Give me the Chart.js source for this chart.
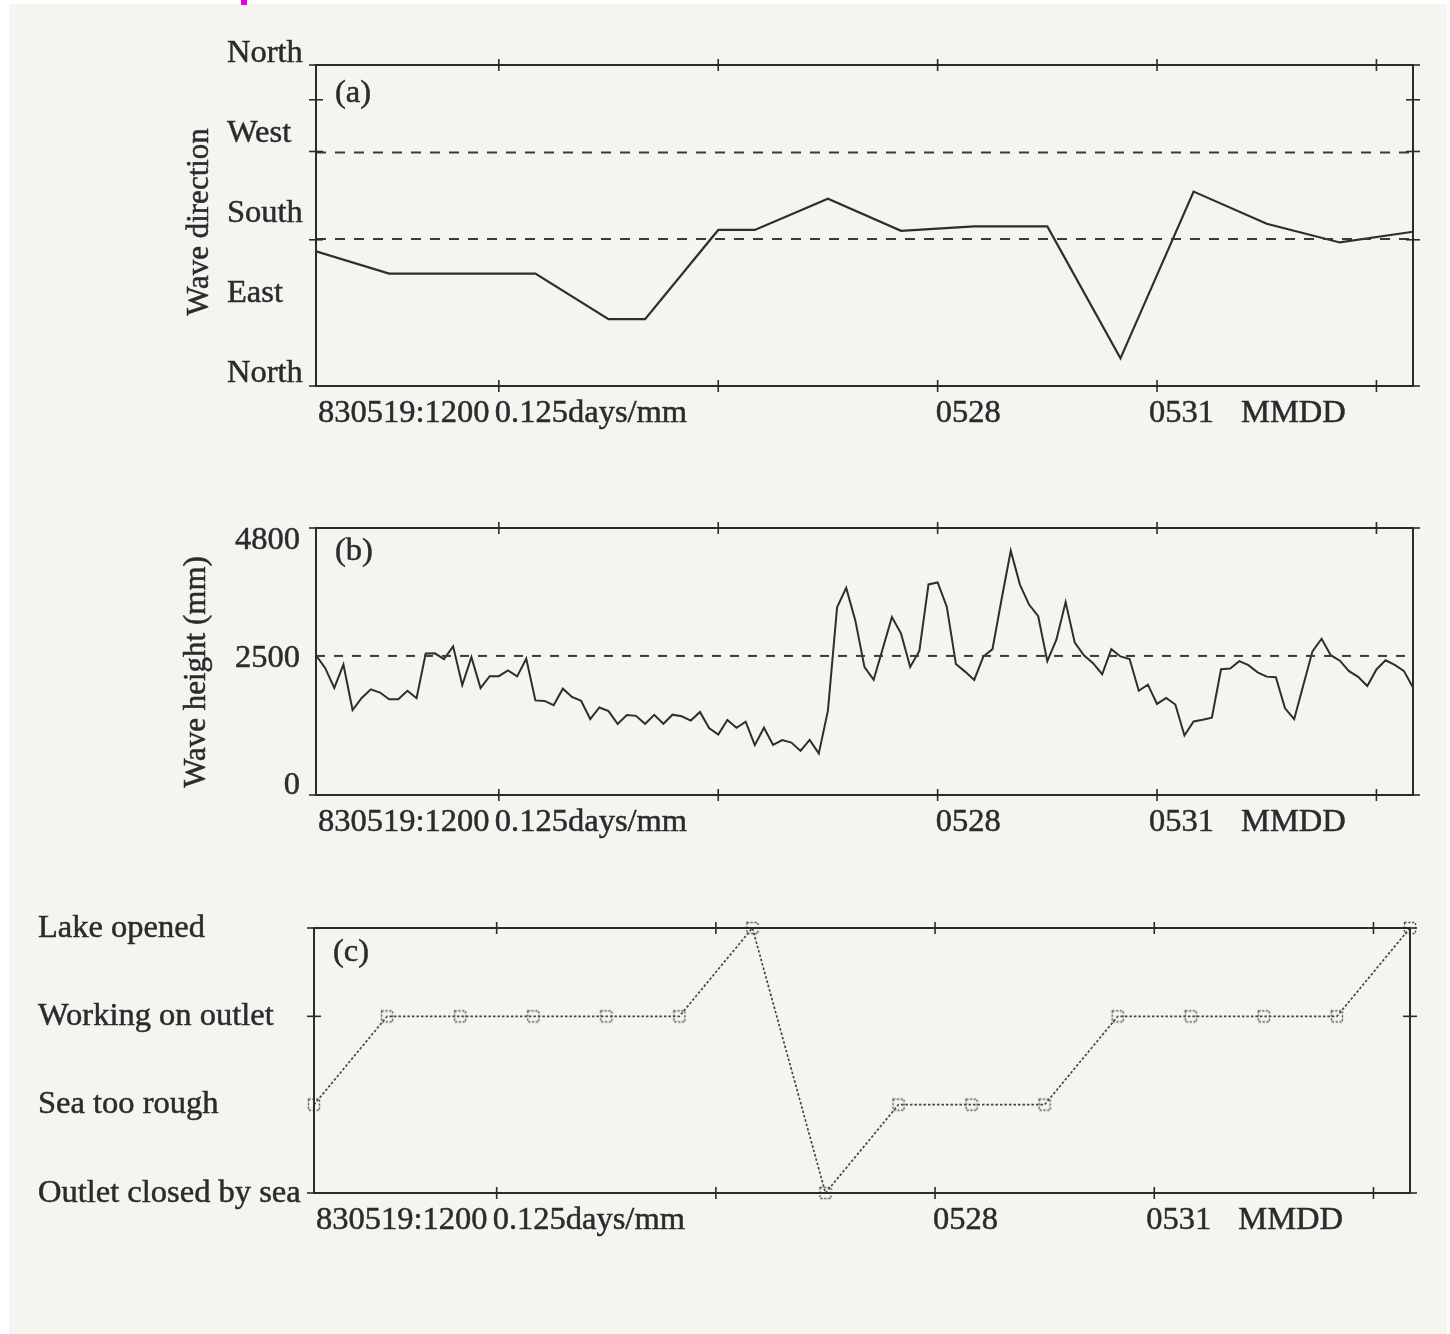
<!DOCTYPE html>
<html>
<head>
<meta charset="utf-8">
<script src="https://cdn.jsdelivr.net/npm/chart.js@4.4.1/dist/chart.umd.min.js"></script>
<style>
  body { margin: 0; background: #ffffff; }
  #page { position: absolute; left: 9px; top: 4px; width: 1438px; height: 1330px; background: #f5f4f1; }
  #mark { position: absolute; left: 241px; top: 0; width: 6px; height: 5px; background: #e000e0; }
  canvas { position: absolute; left: 0; }
</style>
</head>
<body>
<div id="page"></div>
<div id="mark"></div>
<canvas id="dirChart" width="1450" height="460" style="top:0"></canvas>
<canvas id="heightChart" width="1450" height="420" style="top:460px"></canvas>
<canvas id="statusChart" width="1450" height="454" style="top:880px"></canvas>
<script>
// time axis: days since 830519:1200, 0.125 days per step
const timeTickValues = [2.5, 5.5, 8.5, 11.5, 14.5];
const timeLabels = ['830519:1200', '0.125days/mm', '0528', '0531', 'MMDD'];
const timeLabelValues = [0, 2.5, 8.5, 11.5, 11.5];

// (a) wave direction, degrees (0 = North, 90 = East, 180 = South, 270 = West)
const dirTimes = [0, 1, 3, 4, 4.5, 5.5, 6, 7, 8, 9, 10, 11, 12, 13, 14, 15];
const dirValues = [151, 126, 126, 75, 75, 175, 175, 210, 174, 179, 179, 31, 218, 182, 161, 173];
const dirRefLines = [165, 262];
const dirLabelValues = [0, 90, 180, 270, 360];
const dirLabels = ['North', 'East', 'South', 'West', 'North'];
const dirTickValues = [0, 164, 263, 321, 360];

// (b) wave height, mm, every 3 hours
const heightValues = [
  2513, 2284, 1926, 2345, 1527, 1745, 1899, 1842, 1721, 1723,
  1874, 1741, 2545, 2547, 2444, 2673, 1978, 2477, 1921, 2137,
  2137, 2239, 2133, 2450, 1701, 1691, 1613, 1912, 1763, 1692,
  1365, 1574, 1509, 1277, 1439, 1423, 1279, 1441, 1281, 1444,
  1415, 1338, 1493, 1205, 1086, 1347, 1209, 1317, 897, 1209,
  901, 986, 942, 793, 991, 748, 1516, 3374, 3723, 3135,
  2299, 2072, 2635, 3200, 2901, 2302, 2590, 3786, 3822, 3385,
  2354, 2218, 2068, 2489, 2622, 3523, 4392, 3782, 3423, 3214,
  2405, 2797, 3468, 2739, 2511, 2369, 2171, 2622, 2491, 2444,
  1874, 1984, 1637, 1746, 1626, 1070, 1322, 1354, 1390, 2261,
  2273, 2406, 2335, 2205, 2128, 2117, 1559, 1363, 1975, 2583,
  2809, 2513, 2415, 2227, 2124, 1959, 2257, 2421, 2338, 2232,
  1932
];
const heightStep = 0.125;
const heightRefLine = 2500;
const heightLabelValues = [0, 2500, 4800];
const heightLabels = ['0', '2500', '4800'];
const heightTickValues = [0, 4800];

// (c) outlet status, once a day
const statusTimes = [0, 1, 2, 3, 4, 5, 6, 7, 8, 9, 10, 11, 12, 13, 14, 15];
const statusValues = [1, 2, 2, 2, 2, 2, 3, 0, 1, 1, 1, 2, 2, 2, 2, 3];
const statusLabels = ['Outlet closed by sea', 'Sea too rough', 'Working on outlet', 'Lake opened'];
const statusTickValues = [0, 2, 3];

const INK = '#2b2b2b';
const FONT = '"Liberation Serif", "Times New Roman", serif';

function inkText(ctx, t, x, y) {
  ctx.fillText(t, x, y);
  ctx.strokeText(t, x, y);
}

const framePlugin = {
  id: 'frame',
  afterDatasetsDraw(chart, args, o) {
    const { ctx, chartArea: a, scales: { x, y } } = chart;
    const seg = (x1, y1, x2, y2) => { ctx.beginPath(); ctx.moveTo(x1, y1); ctx.lineTo(x2, y2); ctx.stroke(); };
    ctx.save();
    ctx.strokeStyle = INK;
    ctx.lineWidth = 2;
    ctx.strokeRect(a.left, a.top, a.right - a.left, a.bottom - a.top);
    ctx.lineWidth = 1.6;
    timeTickValues.forEach(v => {
      const px = x.getPixelForValue(v);
      seg(px, a.top - 6, px, a.top + 6);
      seg(px, a.bottom - 6, px, a.bottom + 6);
    });
    o.yTicks.forEach(v => {
      const py = y.getPixelForValue(v);
      seg(a.left - 7, py, a.left + 7, py);
      seg(a.right - 7, py, a.right + 7, py);
    });

    ctx.fillStyle = INK;
    ctx.lineWidth = 0.5;
    ctx.font = '32.5px ' + FONT;
    ctx.textBaseline = 'middle';
    // time labels under the frame
    ctx.textAlign = 'left';
    const dx = [2, -4, -2, -8, 84];
    timeLabels.forEach((t, i) => {
      inkText(ctx, t, x.getPixelForValue(timeLabelValues[i]) + dx[i], a.bottom + 27);
    });
    // value labels on the left
    ctx.textAlign = o.yAlign;
    o.yLabels.forEach((t, i) => {
      inkText(ctx, t, o.yX, y.getPixelForValue(o.yValues[i]) + o.yDy[i]);
    });
    // panel letter
    ctx.textAlign = 'left';
    inkText(ctx, o.panel, a.left + 19, a.top + o.panelDy);
    // axis title
    if (o.title) {
      ctx.font = '31px ' + FONT;
      ctx.translate(o.titleX, o.titleY);
      ctx.rotate(-Math.PI / 2);
      ctx.textAlign = 'center';
      inkText(ctx, o.title, 0, 0);
    }
    ctx.restore();
  }
};

function refLine(v, dash) {
  return {
    data: [{ x: 0, y: v }, { x: 15, y: v }],
    borderColor: '#3a3a3a', borderWidth: 2, borderDash: dash,
    pointRadius: 0
  };
}

function makePanel(id, datasets, yMax, padding, frame) {
  return new Chart(document.getElementById(id), {
    type: 'line',
    data: { datasets: datasets },
    options: {
      responsive: false,
      animation: false,
      events: [],
      layout: { padding: padding },
      scales: {
        x: { type: 'linear', min: 0, max: 15, display: false },
        y: { type: 'linear', min: 0, max: yMax, display: false }
      },
      elements: { line: { tension: 0 } },
      plugins: { legend: { display: false }, tooltip: { enabled: false }, frame: frame }
    },
    plugins: [framePlugin]
  });
}

makePanel('dirChart', [
  refLine(dirRefLines[0], [10, 9]),
  refLine(dirRefLines[1], [10, 9]),
  {
    data: dirTimes.map((t, i) => ({ x: t, y: dirValues[i] })),
    borderColor: '#2e2e2e', borderWidth: 2.2, pointRadius: 0
  }
], 360, { left: 316, right: 37, top: 65, bottom: 74 }, {
  yTicks: dirTickValues, yLabels: dirLabels, yValues: dirLabelValues,
  yDy: [-13, -12, -12, -12, -12], yAlign: 'left', yX: 227,
  panel: '(a)', panelDy: 28,
  title: 'Wave direction', titleX: 200, titleY: 222
});

makePanel('heightChart', [
  refLine(heightRefLine, [9, 9]),
  {
    data: heightValues.map((v, i) => ({ x: i * heightStep, y: v })),
    borderColor: '#2e2e2e', borderWidth: 2, pointRadius: 0
  }
], 4800, { left: 316, right: 37, top: 68, bottom: 85 }, {
  yTicks: heightTickValues, yLabels: heightLabels, yValues: heightLabelValues,
  yDy: [-10, 3, 12], yAlign: 'right', yX: 300,
  panel: '(b)', panelDy: 23,
  title: 'Wave height (mm)', titleX: 197, titleY: 212
});

function dottedSquare() {
  const c = document.createElement('canvas');
  c.width = 16; c.height = 16;
  const g = c.getContext('2d');
  g.strokeStyle = '#555';
  g.lineWidth = 1.4;
  g.setLineDash([2.2, 1.6]);
  g.strokeRect(2.5, 2.5, 11, 11);
  return c;
}

makePanel('statusChart', [
  {
    data: statusTimes.map((t, i) => ({ x: t, y: statusValues[i] })),
    borderColor: '#444', borderWidth: 1.7, borderDash: [2.5, 2],
    pointStyle: dottedSquare(), pointRadius: 8,
    clip: false
  }
], 3, { left: 314, right: 40, top: 48, bottom: 141 }, {
  yTicks: statusTickValues, yLabels: statusLabels, yValues: [0, 1, 2, 3],
  yDy: [0, 0, 0, 0], yAlign: 'left', yX: 38,
  panel: '(c)', panelDy: 24,
  title: null
});
</script>
</body>
</html>
